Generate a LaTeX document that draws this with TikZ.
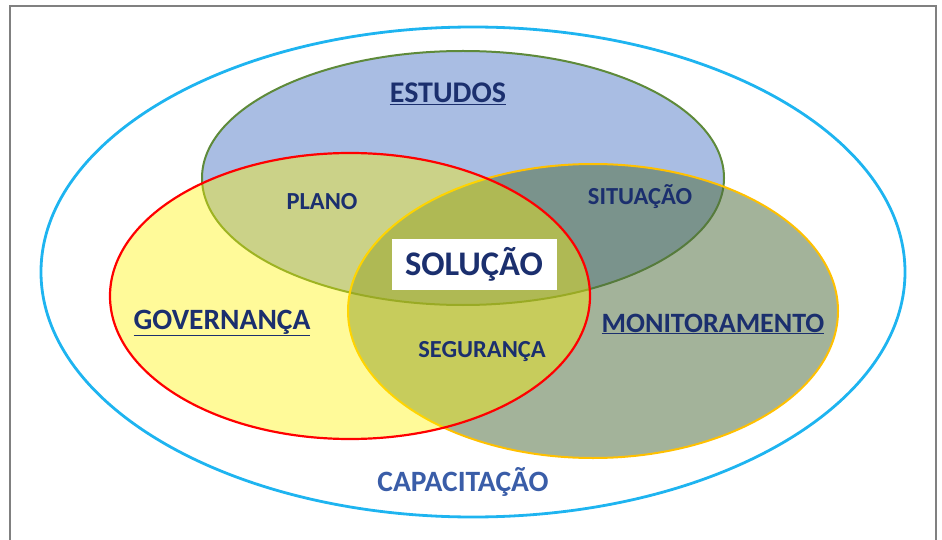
\documentclass[tikz,border=0pt]{standalone}
\usepackage{fontspec}
\setmainfont{Carlito}
\definecolor{navy}{HTML}{1B2F6E}
\definecolor{capblue}{HTML}{3A5DA8}
\definecolor{skyline}{HTML}{1EB4F0}
\definecolor{estfill}{HTML}{A9BDE3}
\definecolor{estline}{HTML}{5E8A3A}
\definecolor{monfill}{HTML}{4F6E3E}
\definecolor{monline}{HTML}{FFC000}
\begin{document}
\begin{tikzpicture}[
        x = 1pt, y = -1pt,
        title/.style = {font = \bfseries\fontsize{#1}{#1}\selectfont, text = navy},
        small/.style = {font = \bfseries\fontsize{24.5}{24.5}\selectfont, text = navy}
    ]
        \useasboundingbox (0,0) rectangle (942,540);
        \draw[gray, line width = 1.5pt] (10,540) -- (10,6) -- (936,6) -- (936,540);
        \draw[skyline, line width = 2.8pt] (473,272) ellipse [x radius = 432pt, y radius = 245pt];
        \draw[estline, fill = estfill, line width = 2pt] (463,178) ellipse [x radius = 261pt, y radius = 127pt];
        \draw[monline, fill = monfill, fill opacity = 0.52, line width = 2pt] (593,311) ellipse [x radius = 245pt, y radius = 147pt];
        \draw[red, fill = yellow, fill opacity = 0.4, line width = 2.2pt] (350,296) ellipse [x radius = 240pt, y radius = 143pt];
        \node[title = 30] (estudos) at (448,94) {\underline{ESTUDOS}};
        \node[title = 29.5] (governanca) at (222,323) {\underline{GOVERNANÇA}};
        \node[title = 28] (monitoramento) at (713,324) {\underline{MONITORAMENTO}};
        \node[small] (plano) at (322,202) {PLANO};
        \node[small] (situacao) at (640,197) {SITUAÇÃO};
        \node[small] (seguranca) at (482,352) {SEGURANÇA};
        \node[fill = white, text = navy, font = \bfseries\fontsize{34.5}{34.5}\selectfont, minimum width = 165pt, minimum height = 51pt] (solucao) at (474,264) {SOLUÇÃO};
        \node[text = capblue, font = \bfseries\fontsize{29.5}{29.5}\selectfont] (capacitacao) at (463,482) {CAPACITAÇÃO};
    \end{tikzpicture}
\end{document}
